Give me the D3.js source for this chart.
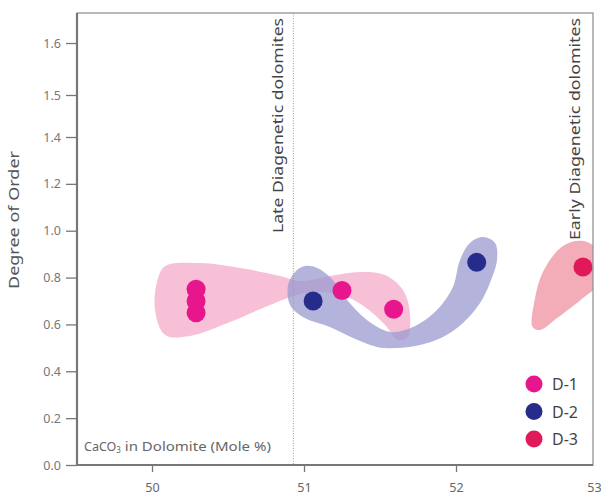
<!DOCTYPE html>
<html><head><meta charset="utf-8">
<script src="https://cdn.jsdelivr.net/npm/d3@7"></script>
<style>body{margin:0;background:#fff}svg{display:block}</style>
</head><body>
<script>
// ---- data ----
const xTicks = [50, 51, 52, 53];
const yTicks = [0.0, 0.2, 0.4, 0.6, 0.8, 1.0, 1.2, 1.4, 1.5, 1.6];
const seriesNames = ["D-1", "D-2", "D-3"];
const seriesColors = ["#e8168c", "#262c8c", "#e01a5a"];
const d1x = [50.29, 50.29, 50.29, 51.25, 51.59];
const d1y = [0.75, 0.70, 0.65, 0.745, 0.665];
const d2x = [51.06, 52.15];
const d2y = [0.70, 0.865];
const d3x = [52.92];
const d3y = [0.845];
const boundaryX = 50.93;
// envelopes (data coordinates)
const env1 = [[50.086,0.849],[50.316,0.862],[50.579,0.841],[50.842,0.807],[50.974,0.785],[51.171,0.807],[51.368,0.824],[51.533,0.811],[51.651,0.747],[51.697,0.649],[51.678,0.542],[51.618,0.534],[51.533,0.598],[51.401,0.674],[51.270,0.721],[51.105,0.738],[50.974,0.730],[50.776,0.683],[50.513,0.610],[50.250,0.551],[50.086,0.555],[50.020,0.662],[50.033,0.781]];
const env2 = [[51.007,0.849],[51.086,0.841],[51.171,0.802],[51.283,0.704],[51.414,0.619],[51.566,0.568],[51.717,0.589],[51.875,0.662],[51.980,0.760],[52.029,0.875],[52.101,0.948],[52.196,0.973],[52.283,0.948],[52.297,0.875],[52.246,0.777],[52.174,0.691],[52.051,0.606],[51.914,0.546],[51.763,0.512],[51.612,0.499],[51.480,0.504],[51.322,0.542],[51.171,0.589],[50.993,0.632],[50.908,0.683],[50.895,0.768],[50.941,0.824]];
const env3 = [[52.555,0.589],[52.570,0.704],[52.630,0.824],[52.775,0.935],[52.920,0.956],[53.022,0.918],[53.022,0.768],[52.920,0.713],[52.732,0.627],[52.609,0.576]];

// ---- layout ----
const W = 601, H = 501;
const mL = 77, mR = 593, mT = 13, mB = 465;
const x = d3.scaleLinear().domain([49.5, 50, 51, 52, 53]).range([76, 152, 304, 456, 594]);
const y = d3.scaleLinear().domain([0, 1.4, 1.5, 1.6, 1.7]).range([465, 137, 95, 43, 13]);

const svg = d3.select("body").append("svg").attr("width", W).attr("height", H)
  .style("font-family", "'Noto Sans', 'Open Sans', sans-serif");

svg.append("defs").append("clipPath").attr("id", "clip")
  .append("rect").attr("x", mL).attr("y", mT).attr("width", mR - mL).attr("height", mB - mT);

const plot = svg.append("g").attr("clip-path", "url(#clip)");
const line = d3.line().x(d => x(d[0])).y(d => y(d[1])).curve(d3.curveCatmullRomClosed.alpha(0.5));

plot.append("path").attr("d", line(env1)).attr("fill", "#f6b9d1").attr("opacity", 0.9);
plot.append("path").attr("d", line(env3)).attr("fill", "#f2a9b4").attr("opacity", 0.95);
plot.append("path").attr("d", line(env2)).attr("fill", "#9a9ad0").attr("opacity", 0.75);

// dotted boundary line
svg.append("line").attr("x1", x(boundaryX)).attr("x2", x(boundaryX)).attr("y1", mT).attr("y2", mB)
  .attr("stroke", "#999").attr("stroke-width", 1).attr("stroke-dasharray", "1,1.5");

// points
const pts = [];
d1x.forEach((v, i) => pts.push({x: v, y: d1y[i], s: 0}));
d2x.forEach((v, i) => pts.push({x: v, y: d2y[i], s: 1}));
d3x.forEach((v, i) => pts.push({x: v, y: d3y[i], s: 2}));
plot.selectAll("circle.pt").data(pts).join("circle").attr("class", "pt")
  .attr("cx", d => x(d.x)).attr("cy", d => y(d.y)).attr("r", 9.5)
  .attr("fill", d => seriesColors[d.s]);

// frame
svg.append("rect").attr("x", mL).attr("y", mT).attr("width", mR - mL).attr("height", mB - mT)
  .attr("fill", "none").attr("stroke", "#8a8a8a").attr("stroke-width", 1.2);
svg.append("line").attr("x1", mL).attr("x2", mL).attr("y1", mT).attr("y2", mB).attr("stroke", "#777").attr("stroke-width", 2.2);
svg.append("line").attr("x1", mL).attr("x2", mR).attr("y1", mB).attr("y2", mB).attr("stroke", "#777").attr("stroke-width", 2.2);

// y axis
const ya = svg.append("g").attr("transform", `translate(${mL},0)`)
  .call(d3.axisLeft(y).tickValues(yTicks).tickFormat(d3.format(".1f")).tickSize(11).tickPadding(5));
ya.select(".domain").remove();
ya.selectAll(".tick line").attr("stroke", "#777").attr("stroke-width", 1.3);
ya.selectAll(".tick text").attr("fill", "#777").style("font-size", "12.5px").style("font-family", "'Noto Sans', sans-serif");

// x axis
const xa = svg.append("g").attr("transform", `translate(0,${mB})`)
  .call(d3.axisBottom(x).tickValues(xTicks).tickFormat(d3.format("d")).tickSize(7).tickPadding(11));
xa.select(".domain").remove();
xa.selectAll(".tick line").attr("stroke", "#777").attr("stroke-width", 1.3);
xa.selectAll(".tick text").attr("fill", "#666").style("font-size", "12.5px").style("font-family", "'Noto Sans', sans-serif");
xa.selectAll(".tick").filter(d => d === 53).select("line").remove();

// titles
svg.append("text").attr("transform", `translate(19,220) rotate(-90)`)
  .attr("text-anchor", "middle").attr("fill", "#555").style("font-size", "14px")
  .attr("textLength", 138).attr("lengthAdjust", "spacingAndGlyphs").text("Degree of Order");
const xl = svg.append("text").attr("x", 84).attr("y", 451).attr("fill", "#666").style("font-size", "12.5px");
xl.append("tspan").text("CaCO");
xl.append("tspan").text("3").style("font-size", "8px").attr("dy", 2);
xl.append("tspan").text(" in Dolomite (Mole %)").attr("dy", -2).attr("textLength", 150).attr("lengthAdjust", "spacingAndGlyphs");

svg.append("text").attr("transform", `translate(283,18) rotate(-90)`).attr("text-anchor", "end")
  .attr("fill", "#444").style("font-size", "15px")
  .attr("textLength", 215).attr("lengthAdjust", "spacingAndGlyphs").text("Late Diagenetic dolomites");
svg.append("text").attr("transform", `translate(580,18) rotate(-90)`).attr("text-anchor", "end")
  .attr("fill", "#444").style("font-size", "15px")
  .attr("textLength", 222).attr("lengthAdjust", "spacingAndGlyphs").text("Early Diagenetic dolomites");

// legend
const lg = svg.append("g");
seriesNames.forEach((n, i) => {
  const ly = 384 + i * 27.5;
  lg.append("circle").attr("cx", 534).attr("cy", ly).attr("r", 8.5).attr("fill", seriesColors[i]);
  lg.append("text").attr("x", 552).attr("y", ly + 6).attr("fill", "#444").style("font-size", "16px").text(n);
});
</script>
</body></html>
